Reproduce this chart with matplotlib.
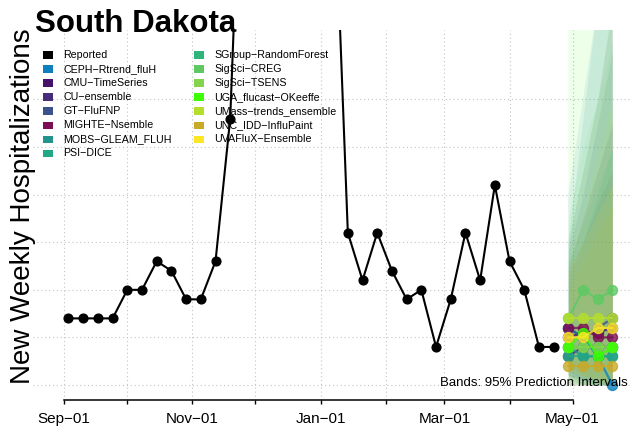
import numpy as np
import pandas as pd
import matplotlib
matplotlib.use('Agg')
import matplotlib.pyplot as plt
import matplotlib.dates as mdates
from matplotlib.patches import Rectangle
from matplotlib.ticker import FuncFormatter

plt.rcParams['font.family'] = ['Liberation Sans', 'DejaVu Sans']

# 每周报告的住院人数（周六结束）
report_dates = pd.date_range('2022-09-03', '2023-04-22', freq='7D')
reported = [14, 14, 14, 14, 20, 20, 26, 24, 18, 18, 26, 56,
            137, 165, 178, 172, 155, 134, 113,
            32, 22, 32, 24, 18, 20, 8, 18, 32, 22, 42, 26, 20, 8, 8]

# 预测的四个目标周
forecast_dates = pd.date_range('2023-04-29', periods=4, freq='7D')

models = ['CEPH−Rtrend_fluH', 'CMU−TimeSeries', 'CU−ensemble', 'GT−FluFNP',
          'MIGHTE−Nsemble', 'MOBS−GLEAM_FLUH', 'PSI−DICE',
          'SGroup−RandomForest', 'SigSci−CREG', 'SigSci−TSENS',
          'UGA_flucast−OKeeffe', 'UMass−trends_ensemble',
          'UNC_IDD−InfluPaint', 'UVAFluX−Ensemble']
colors = ['#0f80bf', '#46136a', '#472c7b', '#3b528b', '#7d0d55', '#21958b',
          '#22a785', '#2db57c', '#5ec962', '#84d44b', '#3cff00', '#b5de2b',
          '#c9a927', '#fde725']

# 各模型中位数预测
medians = [[12, 10, 6, 0],
           [10, 11, 11, 12],
           [6, 8, 8, 8],
           [12, 10, 12, 14],
           [12, 12, 10, 10],
           [8, 6, 6, 6],
           [6, 6, 6, 6],
           [8, 8, 8, 8],
           [14, 20, 18, 20],
           [8, 8, 8, 8],
           [8, 11, 6, 8],
           [14, 14, 14, 14],
           [4, 4, 4, 4],
           [10, 10, 12, 12]]
# 95% 预测区间下限与上限
lower = [[2, 0, 0, 0],
         [2, 1, 0, 0],
         [0, 0, 0, 0],
         [3, 1, 0, 0],
         [4, 2, 1, 0],
         [1, 0, 0, 0],
         [0, 0, 0, 0],
         [2, 1, 0, 0],
         [4, 2, 0, 0],
         [1, 0, 0, 0],
         [0, 0, 0, 0],
         [4, 2, 1, 0],
         [0, 0, 0, 0],
         [3, 2, 1, 0]]
upper = [[40, 60, 80, 100],
         [25, 35, 45, 55],
         [30, 45, 60, 80],
         [28, 40, 55, 70],
         [24, 30, 38, 45],
         [30, 55, 80, 105],
         [22, 30, 40, 50],
         [26, 34, 42, 50],
         [35, 50, 60, 72],
         [30, 45, 60, 80],
         [90, 95, 100, 110],
         [26, 36, 48, 60],
         [20, 26, 32, 38],
         [24, 30, 36, 42]]

W, H = 632, 433
def fx(px):
    return px / W
def fy(py):
    return 1 - py / H

fig = plt.figure(figsize=(W / 100, H / 100), dpi=100)
ax = fig.add_axes([fx(33), fy(400), fx(632) - fx(33), fy(30) - fy(400)])

sep1 = mdates.date2num(pd.Timestamp('2022-09-01'))
may1 = mdates.date2num(pd.Timestamp('2023-05-01'))
ax.set_xlim(sep1 - 14.9, may1 + 28.3)
ax.set_ylim(-3.15, 74.6)

# 预测区间
for c, lo, hi in zip(colors, lower, upper):
    ax.fill_between(forecast_dates, lo, hi, color=c, alpha=0.09, lw=0, zorder=2)

# 报告值
ax.plot(report_dates, reported, '-o', color='black', lw=1.5, ms=6.3, zorder=4)

# 中位数预测
for c, m in zip(colors, medians):
    ax.plot(forecast_dates, m, '-o', color=c, lw=1.6, ms=7.2, alpha=0.8, zorder=3)

# 网格与坐标轴
ax.set_axisbelow(True)
ax.set_yticks(range(0, 70, 10))
ax.tick_params(axis='y', left=False, labelleft=False)
ax.xaxis.set_major_locator(mdates.MonthLocator())
ax.xaxis.set_major_formatter(FuncFormatter(
    lambda v, pos: mdates.num2date(v).strftime('%b−%d')
    if mdates.num2date(v).month % 2 == 1 else ''))
ax.grid(True, color='#c4c4c4', lw=0.8, ls=(0, (1, 2.5)))
ax.tick_params(axis='x', direction='out', length=3.2, width=1, pad=5.5,
               labelsize=11)
for s in ['left', 'right', 'top']:
    ax.spines[s].set_visible(False)
ax.spines['bottom'].set_bounds(sep1, may1)
ax.spines['bottom'].set_linewidth(1.1)

# 图例（两列）
labels = ['Reported'] + models
legend_colors = ['black'] + colors
for i, (lab, c) in enumerate(zip(labels, legend_colors)):
    col, row = divmod(i, 8)
    x0 = 43.3 + col * 151
    y0 = 55 + row * 14.05
    ax.add_patch(Rectangle((fx(x0), fy(y0 + 3.7)), fx(10), fy(0) - fy(7.4),
                           transform=fig.transFigure, color=c, lw=0,
                           zorder=1, clip_on=False))
    ax.text(fx(x0 + 19.7), fy(y0), lab, transform=fig.transFigure,
            fontsize=7.7, va='center', ha='left', zorder=1)

ax.text(fx(628), fy(383), 'Bands: 95% Prediction Intervals',
        transform=fig.transFigure, fontsize=9.5, ha='right', va='center',
        zorder=5)

fig.text(fx(35), fy(32), 'South Dakota', fontsize=22.5, fontweight='bold',
         va='baseline', ha='left')
fig.text(fx(23), fy(206), 'New Weekly Hospitalizations', fontsize=20,
         rotation=90, va='center', ha='center')

fig.savefig('out.png', dpi=100)
